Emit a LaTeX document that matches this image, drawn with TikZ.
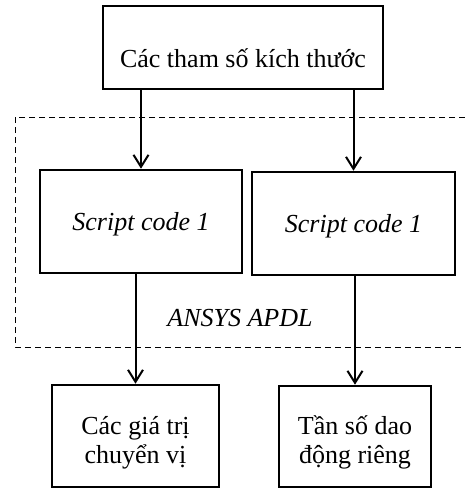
\documentclass[tikz,border=0pt]{standalone}
\usepackage{fontspec}
\setmainfont{Liberation Serif}
\usetikzlibrary{arrows.meta}

\begin{document}
\begin{tikzpicture}[x=1pt, y=-1pt, every node/.style={font=\fontsize{26}{29}\selectfont},
    box/.style={draw, line width=2.6pt, inner sep=0pt, align=center},
    flow/.style={line width=2pt, -{Straight Barb[length=12pt, width=15pt, line width=2pt]}}]
      \useasboundingbox (0,0) rectangle (465,488);
      % the ANSYS APDL frame, open to the right
      \draw[dashed, line width=1pt, dash pattern=on 6pt off 4pt] (15,117) rectangle (490,347);
      \node[box, minimum width=280pt, minimum height=83pt, text height=40pt, text depth=1pt] (pars) at (243,47.5) {Các tham số kích thước};
      \node[box, minimum width=202pt, minimum height=103pt, text height=20pt, text depth=3pt] (sc1) at (141,221.5) {\itshape Script code 1};
      \node[box, minimum width=203pt, minimum height=103pt, text height=20pt, text depth=3pt] (sc2) at (353.5,223.5) {\itshape Script code 1};
      \node[anchor=base] (apdl) at (240,326) {\itshape ANSYS APDL};
      \node[box, minimum width=167pt, minimum height=102pt, text height=54pt, text depth=0pt] (disp) at (135.5,436) {Các giá trị\\chuyển vị};
      \node[box, minimum width=152pt, minimum height=101pt, text height=54pt, text depth=0pt] (freq) at (355,436.5) {Tần số dao\\động riêng};
      \draw[flow] (sc1.north |- pars.south) -- (sc1.north); \draw[flow] (sc2.north |- pars.south) -- (sc2.north);
      \draw[flow] (disp.north |- sc1.south) -- (disp.north);
      \draw[flow] (freq.north |- sc2.south) -- (freq.north);
    \end{tikzpicture}
\end{document}
